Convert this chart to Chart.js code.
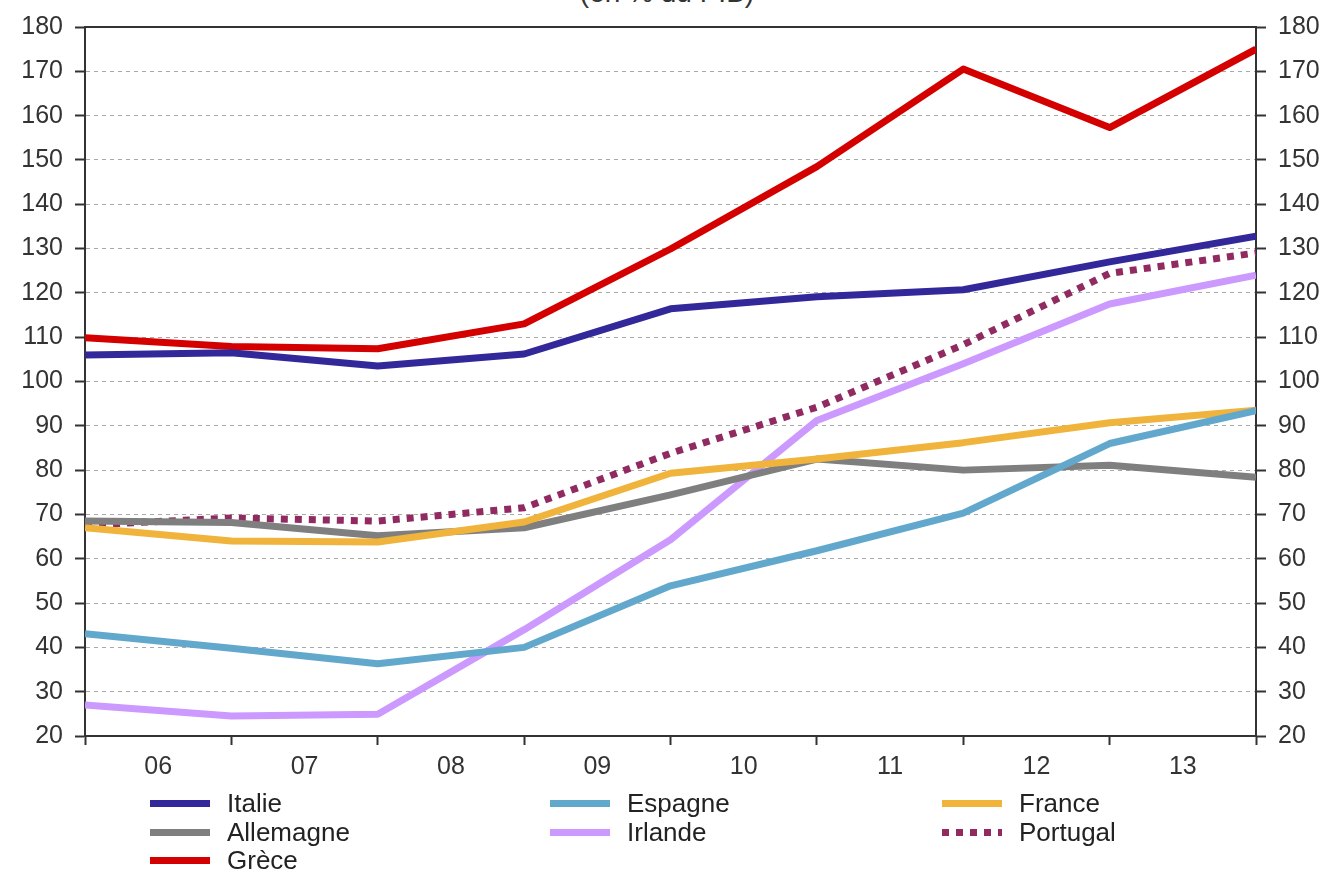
<!DOCTYPE html>
<html><head><meta charset="utf-8">
<script src="https://cdn.jsdelivr.net/npm/chart.js@4"></script>
<style>
html,body{margin:0;padding:0;background:#fff;}
#wrap{position:relative;width:1334px;height:870px;overflow:hidden;background:#fff;}
#title{position:absolute;left:0;width:1334px;top:-21px;text-align:center;font:28px/28px "Liberation Sans",Arial,sans-serif;color:#333;}
canvas{position:absolute;left:0;top:0;}
.lg{position:absolute;height:29px;display:flex;align-items:center;font:26px "Liberation Sans",Arial,sans-serif;color:#222;white-space:nowrap;}
.sw{width:60px;height:7px;margin-right:17px;}
</style></head>
<body>
<div id="wrap">
<div id="title">(en % du PIB)</div>
<canvas id="c" width="1334" height="870"></canvas>
<div id="legend"></div>
</div>
<script>
const years = ['06','07','08','09','10','11','12','13'];
const yTicks = [20,30,40,50,60,70,80,90,100,110,120,130,140,150,160,170,180];
const italie    = [106.0,106.5,103.5,106.2,116.4,119.1,120.7,127.0,132.8];
const espagne   = [43.1,39.8,36.3,40.0,53.9,61.8,70.3,86.0,93.4];
const france    = [67.0,64.0,63.8,68.3,79.3,82.5,86.2,90.7,93.5];
const allemagne = [68.5,68.2,65.2,67.0,74.4,82.5,80.0,81.1,78.4];
const irlande   = [27.0,24.5,24.9,44.0,64.3,91.2,104.0,117.5,124.0];
const portugal  = [67.6,69.2,68.5,71.5,83.8,94.2,108.3,124.4,129.0];
const grece     = [109.9,107.9,107.4,113.0,129.9,148.5,170.5,157.3,175.0];

const series = [
  {label:'Italie', data:italie, color:'#33289a'},
  {label:'Espagne', data:espagne, color:'#62a8cd'},
  {label:'France', data:france, color:'#f0b43c'},
  {label:'Allemagne', data:allemagne, color:'#7f7f7f'},
  {label:'Irlande', data:irlande, color:'#cc99ff'},
  {label:'Portugal', data:portugal, color:'#902a60', dash:[7,7]},
  {label:'Grèce', data:grece, color:'#d40000'}
];

const tickFont = {family:'"Liberation Sans", Arial, sans-serif', size:25};
const axisColor = '#333';

const datasets = series.map(s => ({
  label: s.label,
  data: s.data.map((v,i)=>({x:i, y:v})),
  borderColor: s.color,
  backgroundColor: s.color,
  borderWidth: 7,
  borderDash: s.dash || [],
  borderCapStyle: 'butt',
  borderJoinStyle: 'round',
  pointRadius: 0,
  tension: 0,
  fill: false,
  xAxisID: 'xd',
  yAxisID: 'y'
}));

new Chart(document.getElementById('c'), {
  type: 'line',
  data: { labels: years, datasets },
  options: {
    responsive: false,
    animation: false,
    layout: { padding: {top: 24, left: 0, right: 0, bottom: 0} },
    plugins: { legend: {display:false}, tooltip: {enabled:false}, title:{display:false} },
    scales: {
      x: {
        type: 'category', position: 'bottom', offset: true,
        grid: { display: true, offset: true, drawOnChartArea: false, tickLength: 9, tickColor: axisColor, tickWidth: 2 },
        border: { display: true, color: axisColor, width: 2 },
        ticks: { font: tickFont, color: '#333', padding: 7, maxRotation: 0 },
        afterFit: s => { s.height = 870 - 736; }
      },
      xt: {
        type: 'linear', position: 'top', min: 0, max: 8,
        grid: { display: false },
        border: { display: true, color: axisColor, width: 2 },
        ticks: { display: false },
        afterFit: s => { s.height = 0; }
      },
      xd: { type: 'linear', min: 0, max: 8, display: false },
      y: {
        position: 'left', min: 20, max: 180,
        afterBuildTicks: s => { s.ticks = yTicks.map(v=>({value:v})); },
        grid: { color: '#aaa', lineWidth: 1, tickLength: 10, tickColor: axisColor, tickWidth: 2 },
        border: { display: true, color: axisColor, width: 2, dash: [4,4] },
        ticks: { font: tickFont, color: '#333', padding: 12 },
        afterFit: s => { s.width = 85; }
      },
      y2: {
        position: 'right', min: 20, max: 180,
        afterBuildTicks: s => { s.ticks = yTicks.map(v=>({value:v})); },
        grid: { drawOnChartArea: false, tickLength: 10, tickColor: axisColor, tickWidth: 2 },
        border: { display: true, color: axisColor, width: 2 },
        ticks: { font: tickFont, color: '#333', padding: 12 },
        afterFit: s => { s.width = 1334 - 1256; }
      }
    }
  }
});

// HTML legend, 3 columns
const colX = [150, 550, 942];
const rowY = [789, 818, 846];
const lg = document.getElementById('legend');
series.forEach((s, i) => {
  const d = document.createElement('div');
  d.className = 'lg';
  d.style.left = colX[i % 3] + 'px';
  d.style.top = rowY[Math.floor(i / 3)] + 'px';
  const sw = document.createElement('span');
  sw.className = 'sw';
  sw.style.background = s.dash
    ? `repeating-linear-gradient(90deg, ${s.color} 0 7px, transparent 7px 14px)`
    : s.color;
  const t = document.createElement('span');
  t.textContent = s.label;
  d.appendChild(sw); d.appendChild(t);
  lg.appendChild(d);
});
</script>
</body></html>
